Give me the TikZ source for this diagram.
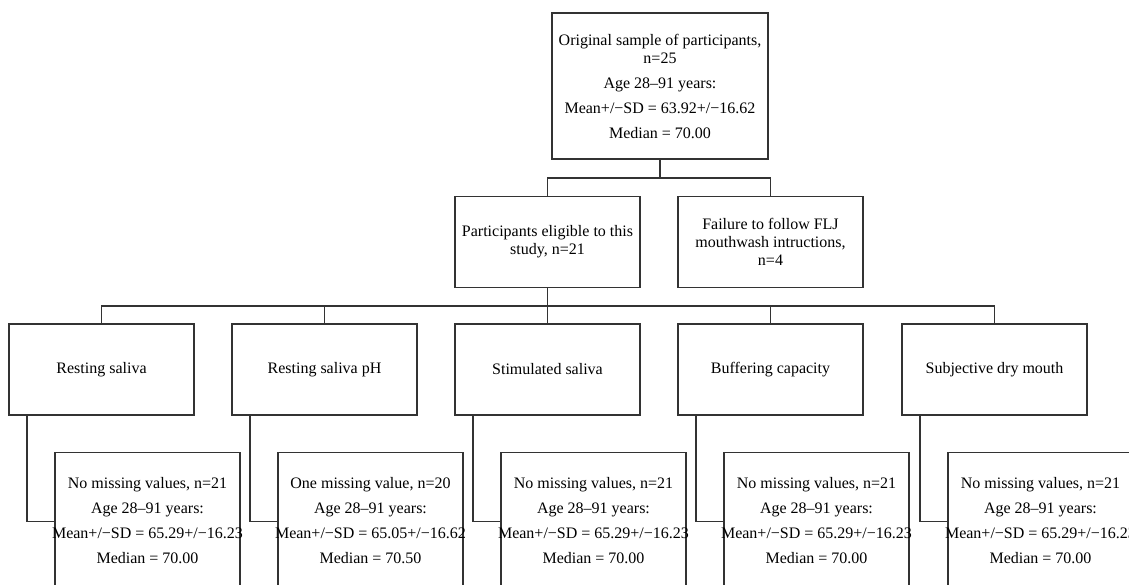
\documentclass[tikz,border=0pt]{standalone}
\usepackage{fontspec}
\setmainfont{Liberation Serif}
\tikzset{
  box/.style={draw=black!80, line width=.8pt, inner sep=0pt, align=center,
    minimum width=138.75pt, minimum height=68.25pt,
    font=\fontsize{12}{13.5}\selectfont},
  link/.style={draw=black!80, line width=.8pt}
}
\newcommand{\msd}[2]{\makebox[138pt]{Mean+/−SD = #1+/−#2}}

\begin{document}
\begin{tikzpicture}[x=.75pt,y=-.75pt]%sample flow
\useasboundingbox (0,0) rectangle (1129,585);
\clip (0,0) rectangle (1129,585);
\node[box,minimum width=162pt,minimum height=109.5pt] (orig) at (660,86) {Original sample of participants,\\ n=25\\[5.25pt] Age 28–91 years:\\[5.25pt] \msd{63.92}{16.62}\\[5.25pt] Median = 70.00};
\node[box] (elig) at (547.5,242) {Participants eligible to this\\ study, n=21};
\node[box] (fail) at (770.5,242) {Failure to follow FLJ\\ mouthwash intructions,\\ n=4};
\coordinate (j1) at (660,178);
\coordinate (j2) at (547.5,306);
\draw[link] (orig.south) -- (j1);
\draw[link] (elig.north) |- (j1) -| (fail.north);
\foreach \i/\x/\lab in {1/101.5/Resting saliva, 2/324.5/Resting saliva pH, 3/547.5/Stimulated saliva, 4/770.5/Buffering capacity, 5/994.5/Subjective dry mouth}
  \node[box] (c\i) at (\x,369.5) {\lab};
\foreach \i/\x/\first/\m/\s/\med in {1/147.5/{No missing values, n=21}/65.29/16.23/70.00, 2/370.5/{One missing value, n=20}/65.05/16.62/70.50, 3/593.5/{No missing values, n=21}/65.29/16.23/70.00, 4/816.5/{No missing values, n=21}/65.29/16.23/70.00, 5/1040.5/{No missing values, n=21}/65.29/16.23/70.00}
  \node[box,anchor=north,minimum height=102.75pt] (r\i) at (\x,452) {\first\\[5.25pt] Age 28–91 years:\\[5.25pt] \msd{\m}{\s}\\[5.25pt] Median = \med};
\draw[link] (elig.south) -- (c3.north);
\draw[link] (c1.north) |- (j2) -| (c5.north);
\foreach \i in {2,4}
  \draw[link] (c\i.north) |- (j2);
\foreach \i in {1,...,5}
  \draw[link] ([xshift=13.875pt]c\i.south west) |- (r\i.west);
\end{tikzpicture}
\end{document}
